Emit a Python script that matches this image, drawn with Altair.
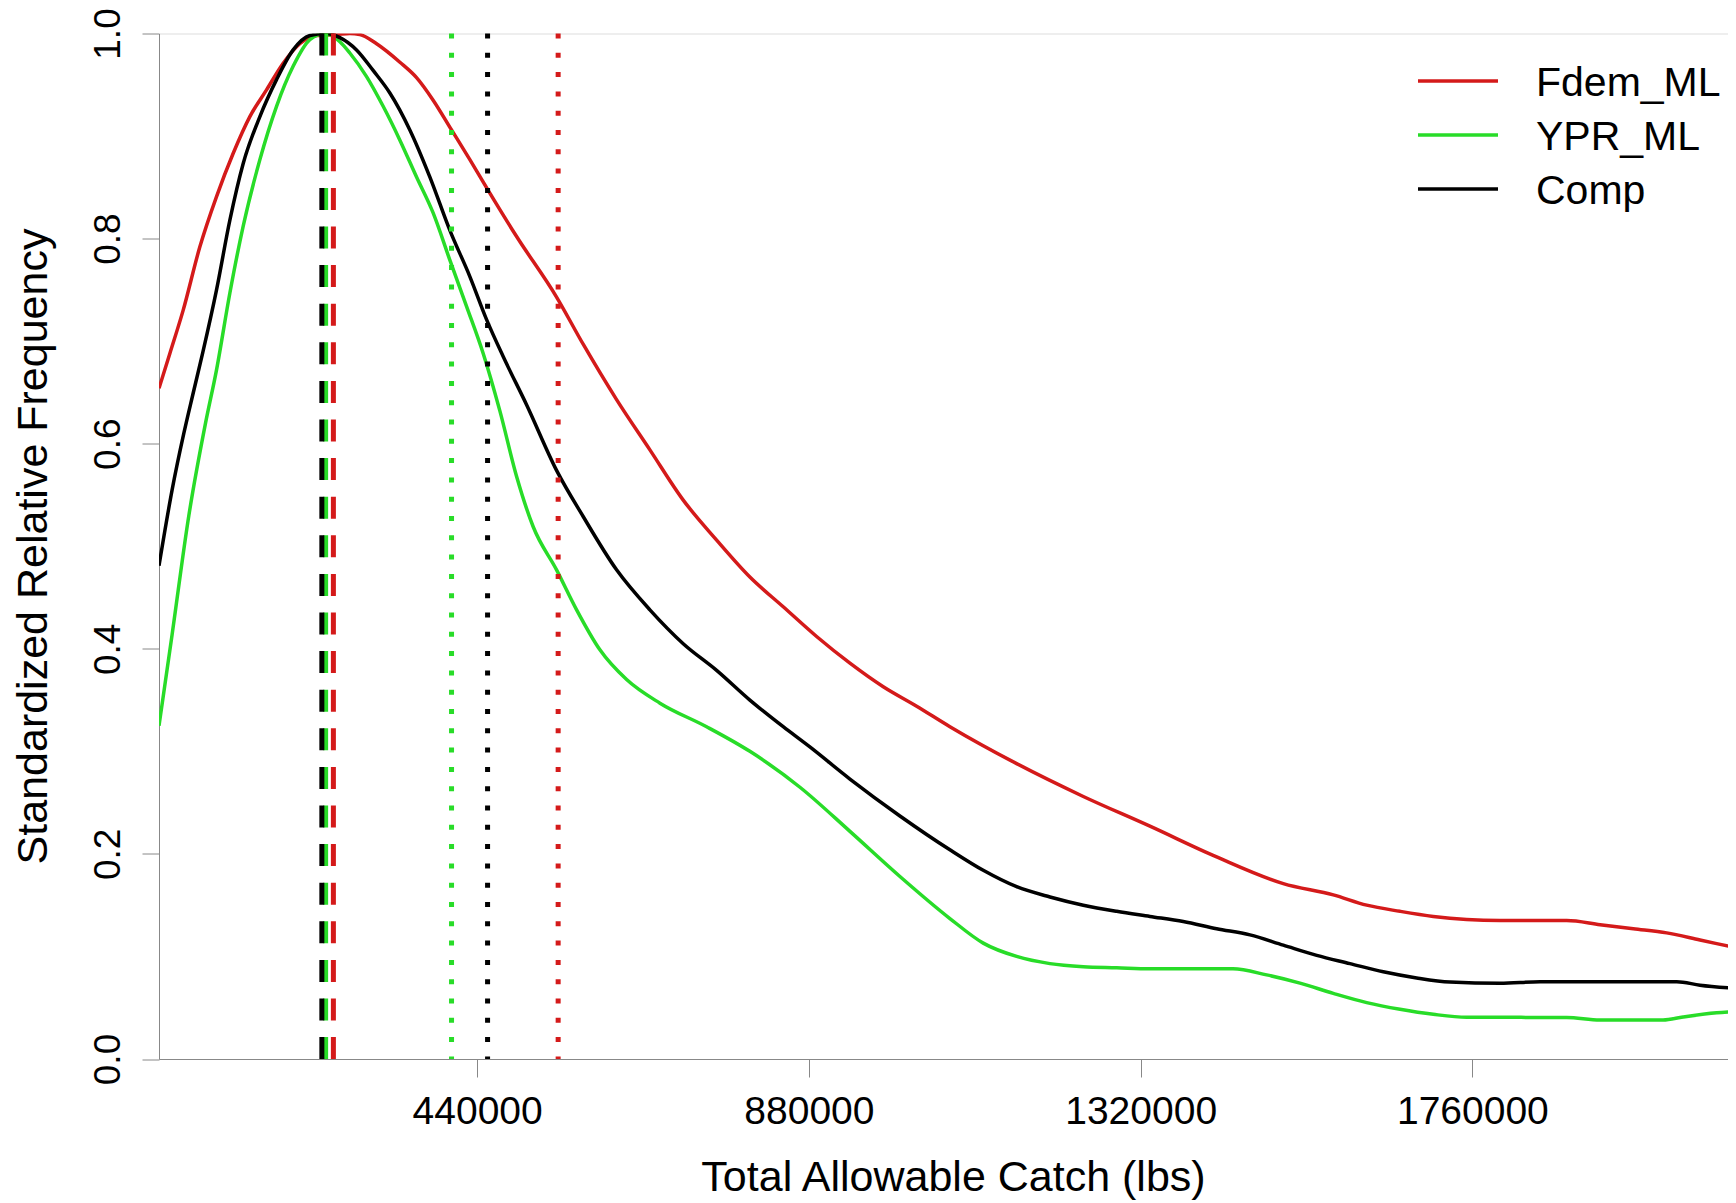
import altair as alt
import pandas as pd

FONT = "Liberation Sans"

series_names = ["Fdem_ML", "YPR_ML", "Comp"]
series_colors = ["#D41A1A", "#28DC28", "#000000"]

fdem_x = [18000, 32400, 50000, 72200, 94300, 116300, 138500, 160600, 182700, 204800,
          227000, 253900, 271100, 284400, 306600, 337500, 359600, 381600, 406000, 430300,
          454600, 492300, 545300, 580600, 624900, 669100, 713300, 757600, 801700, 845900,
          890200, 934400, 978600, 1022900, 1067000, 1155500, 1243900, 1332300, 1420800, 1509200,
          1575500, 1619800, 1664000, 1708100, 1752400, 1796600, 1885100, 1929300, 1973400, 2017700,
          2061900, 2106100]
fdem_y = [0.654, 0.688, 0.730, 0.792, 0.841, 0.883, 0.919, 0.945, 0.971, 0.990,
          0.998, 0.999, 1.000, 0.999, 0.990, 0.972, 0.957, 0.935, 0.906, 0.877,
          0.847, 0.802, 0.743, 0.697, 0.643, 0.594, 0.545, 0.506, 0.470, 0.441,
          0.412, 0.386, 0.363, 0.344, 0.324, 0.288, 0.256, 0.227, 0.197, 0.171,
          0.160, 0.150, 0.144, 0.139, 0.136, 0.135, 0.135, 0.131, 0.127, 0.123,
          0.116, 0.109]

ypr_x = [18000, 35400, 57600, 79700, 94300, 112000, 129600, 151800, 173900, 195900,
         218100, 238000, 257900, 271100, 293300, 315300, 337500, 359600, 381600, 403800,
         425900, 448000, 470100, 492300, 514300, 545300, 571900, 602800, 638200, 682400,
         744300, 801700, 868100, 934400, 1000700, 1067000, 1111200, 1155500, 1199700, 1243900,
         1288200, 1332300, 1442400, 1487100, 1531300, 1575500, 1619800, 1664000, 1708100, 1752400,
         1885100, 1929300, 2012800, 2039400, 2084100, 2106100]
ypr_y = [0.325, 0.414, 0.530, 0.620, 0.672, 0.747, 0.812, 0.877, 0.929, 0.968,
         0.994, 1.000, 0.992, 0.981, 0.958, 0.929, 0.896, 0.860, 0.825, 0.779,
         0.734, 0.688, 0.632, 0.568, 0.519, 0.477, 0.438, 0.399, 0.370, 0.347,
         0.324, 0.300, 0.265, 0.222, 0.178, 0.137, 0.113, 0.100, 0.093, 0.090,
         0.089, 0.088, 0.088, 0.082, 0.074, 0.064, 0.055, 0.0485, 0.0436, 0.0407,
         0.0405, 0.038, 0.038, 0.041, 0.045, 0.046]

comp_x = [18000, 35400, 50900, 62900, 76100, 94300, 112000, 129600, 151800, 173900,
          195900, 218100, 238000, 257900, 280000, 302000, 324200, 350700, 377300, 403800,
          430300, 452500, 474500, 505500, 545300, 580600, 624900, 669100, 713300, 757600,
          801700, 845900, 880000, 934400, 1000700, 1067000, 1111200, 1155500, 1199700, 1243900,
          1288200, 1332300, 1376500, 1420800, 1465000, 1509200, 1553500, 1597600, 1641800, 1686100,
          1730300, 1796600, 1849700, 2031000, 2061900, 2106100]
comp_y = [0.481, 0.555, 0.610, 0.648, 0.689, 0.750, 0.818, 0.873, 0.919, 0.955,
          0.984, 0.998, 1.000, 0.996, 0.984, 0.964, 0.942, 0.906, 0.860, 0.808,
          0.763, 0.721, 0.685, 0.638, 0.574, 0.529, 0.477, 0.438, 0.405, 0.379,
          0.350, 0.324, 0.305, 0.273, 0.237, 0.204, 0.184, 0.168, 0.158, 0.150,
          0.144, 0.139, 0.134, 0.127, 0.121, 0.111, 0.101, 0.093, 0.085, 0.079,
          0.075, 0.0738, 0.0754, 0.0754, 0.072, 0.069]

# vertical reference lines (order: Fdem_ML, YPR_ML, Comp)
dashed_x = [249300, 239000, 234000]
dotted_x = [547400, 406000, 453800]

x_ticks = [440000, 880000, 1320000, 1760000]
y_ticks = [0.0, 0.2, 0.4, 0.6, 0.8, 1.0]
x_domain = [18000, 2099000]
y_domain = [0.0, 1.0]

rows = []
for name, xs, ys in [("Fdem_ML", fdem_x, fdem_y), ("YPR_ML", ypr_x, ypr_y), ("Comp", comp_x, comp_y)]:
    for xv, yv in zip(xs, ys):
        rows.append({"series": name, "tac": xv, "freq": yv})
curves = pd.DataFrame(rows)

dashed_df = pd.DataFrame({"series": series_names, "tac": dashed_x})
dotted_df = pd.DataFrame({"series": series_names, "tac": dotted_x})

xscale = alt.Scale(domain=x_domain, zero=False, nice=False)
yscale = alt.Scale(domain=y_domain, zero=False, nice=False)
cscale = alt.Scale(domain=series_names, range=series_colors)

x_axis = alt.Axis(
    title="Total Allowable Catch (lbs)",
    values=x_ticks, format="d", grid=False,
    tickSize=18, labelPadding=15, labelFontSize=39, labelFlush=False, labelOverlap=False,
    titleFontSize=43, titleFontWeight="normal", titleX=794, titleY=131,
    titleAlign="center", titleBaseline="alphabetic", titleAnchor="middle",
)
y_axis = alt.Axis(
    title="Standardized Relative Frequency",
    values=y_ticks, format=".1f", grid=False,
    tickSize=17, labelPadding=23, labelFontSize=37, labelAngle=270,
    labelAlign="center", labelBaseline="alphabetic", labelFlush=False, labelOverlap=False,
    titleFontSize=43, titleFontWeight="normal", titleAngle=270, titleX=-113, titleY=512.5,
    titleAlign="center", titleBaseline="alphabetic", titleAnchor="middle",
)

lines = alt.Chart(curves).mark_line(strokeWidth=3.5, interpolate="monotone", clip=True).encode(
    x=alt.X("tac:Q", scale=xscale, axis=x_axis),
    y=alt.Y("freq:Q", scale=yscale, axis=y_axis),
    color=alt.Color(
        "series:N", scale=cscale,
        legend=alt.Legend(
            title=None, orient="none", legendX=1277, legendY=28.5, padding=0,
            symbolType="M-2,-0.15H2", symbolSize=1600, symbolStrokeWidth=3.5,
            labelFontSize=41, labelFont=FONT, labelColor="black", labelOffset=56,
            rowPadding=12, labelLimit=0,
        ),
    ),
    order=alt.Order("tac:Q"),
)

dashed = alt.Chart(dashed_df).mark_rule(strokeWidth=5, strokeDash=[22, 16.6]).encode(
    x=alt.X("tac:Q", scale=xscale),
    color=alt.Color("series:N", scale=cscale, legend=None),
)
dotted = alt.Chart(dotted_df).mark_rule(strokeWidth=5, strokeDash=[5, 14.3]).encode(
    x=alt.X("tac:Q", scale=xscale),
    color=alt.Color("series:N", scale=cscale, legend=None),
)

chart = alt.layer(lines, dashed, dotted).properties(
    width=1569, height=1025.5,
    padding={"left": 151, "top": 25.5, "right": 0, "bottom": 143},
    autosize=alt.AutoSizeParams(type="none"),
).configure_view(stroke=None).configure_axis(
    labelFont=FONT, titleFont=FONT, labelColor="black", titleColor="black",
    titleFontWeight="normal", domainColor="black", tickColor="black",
    domainWidth=2, tickWidth=2,
).configure(background="white")

chart.save("out.html", embed_options={"renderer": "svg", "actions": False})
